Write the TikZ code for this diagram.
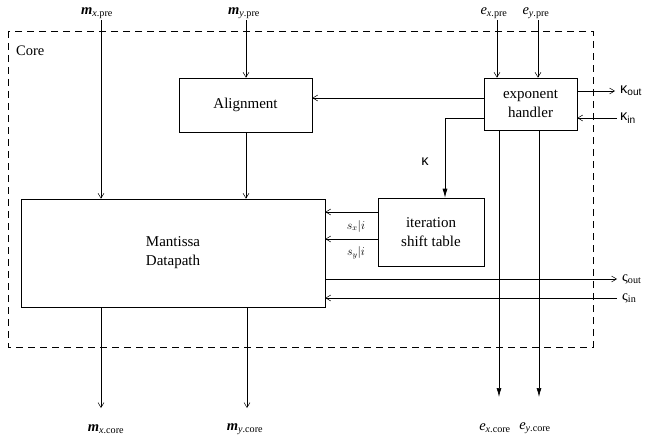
\documentclass[tikz,border=0pt]{standalone}
\usepackage{fontspec}
\setmainfont{Liberation Serif}
\newfontfamily\gksans{Liberation Sans}
\usetikzlibrary{arrows.meta}

\tikzset{
  block/.style={draw, line width=0.6pt, inner sep=0pt, align=center,
                font=\fontsize{15}{19}\selectfont},
  sig/.style={inner sep=1pt, font=\fontsize{14.5}{16}\selectfont},
  small/.style={inner sep=0pt, font=\fontsize{12}{14}\selectfont},
  wire/.style={line width=0.5pt},
  oarr/.style={wire, -{Straight Barb[length=5pt,width=6pt]}},
  farr/.style={line width=0.7pt, -{Latex[length=9pt,width=5pt]}},
  corebox/.style={draw, line width=0.6pt, dash pattern=on 7pt off 5pt},
}

% signal names
\newcommand{\mname}[2]{{\itshape\bfseries m}\textsubscript{\itshape #1\upshape .#2}}
\newcommand{\ename}[2]{{\itshape e}\textsubscript{\itshape #1\upshape .#2}}
\newcommand{\kname}[1]{{\gksans κ}\textsubscript{\gksans #1}}
\newcommand{\zname}[1]{ς\textsubscript{#1}}

\begin{document}
\begin{tikzpicture}[x=1pt, y=-1pt]
\useasboundingbox (0,0) rectangle (652,441);

% core boundary
\draw[corebox] (8,31) rectangle (593,347);
\node[sig, anchor=west] (core) at (15,51) {Core};

% functional blocks
\node[block, minimum width=133pt, minimum height=54pt] (align) at (245.5,105) {Alignment};
\node[block, minimum width=304pt, minimum height=108pt] (mant) at (173,253) {Mantissa\\Datapath};
\node[block, minimum width=106pt, minimum height=68pt] (iter) at (431,232) {iteration\\shift table};
\node[block, minimum width=93pt, minimum height=52pt] (exp) at (530.5,104) {exponent\\handler};

% inputs at the top
\node[sig] (mxpre) at (97,13) {\mname{x}{pre}};
\node[sig] (mypre) at (244,13) {\mname{y}{pre}};
\node[sig] (expre) at (494,13) {\ename{x}{pre}};
\node[sig] (eypre) at (536,13) {\ename{y}{pre}};

% outputs at the bottom
\node[sig] (mxcore) at (106,429) {\mname{x}{core}};
\node[sig] (mycore) at (245,429) {\mname{y}{core}};
\node[sig] (excore) at (495,428) {\ename{x}{core}};
\node[sig] (eycore) at (535,428) {\ename{y}{core}};

% side signals
\node[sig, anchor=west] (kout) at (619,91) {\kname{out}};
\node[sig, anchor=west] (kin)  at (619,118) {\kname{in}};
\node[sig, anchor=west] (zout) at (621,279) {\zname{out}};
\node[sig, anchor=west] (zin)  at (621,298) {\zname{in}};
\node[sig] (klab) at (425,162) {\gksans κ};
\node[small] (sxlab) at (356,226) {$s_x|i$};
\node[small] (sylab) at (356,253) {$s_y|i$};

% free ends of the wires
\coordinate (koutend) at (615,91);
\coordinate (kinend) at (617,118);
\coordinate (zoutend) at (617,279);
\coordinate (zinend) at (617,298);
\coordinate (kcorner) at (445,118);
\coordinate (mxend) at (101,408);
\coordinate (myend) at (247,408);
\coordinate (exend) at (499,397);
\coordinate (eyend) at (539,397);

% mantissa path
\draw[oarr] (mxpre.south -| 101,0) -- (mant.north -| 101,0);
\draw[oarr] (mypre.south -| 246,0) -- (align.north -| 246,0);
\draw[oarr] (align.south -| 246,0) -- (mant.north -| 246,0);
\draw[oarr] (mant.south -| mxend) -- (mxend);
\draw[oarr] (mant.south -| myend) -- (myend);

% exponent path
\draw[oarr] (expre.south -| 497,0) -- (exp.north -| 497,0);
\draw[oarr] (eypre.south -| 538,0) -- (exp.north -| 538,0);
\draw[farr] (exp.south -| exend) -- (exend);
\draw[farr] (exp.south -| eyend) -- (eyend);

% exponent handler to alignment and shift table
\draw[oarr] (exp.west |- 0,98) -- (align.east |- 0,98);
\draw[farr] (exp.west |- kcorner) -- (kcorner) -- (iter.north -| kcorner);

% shift amounts into the datapath
\draw[oarr] (iter.west |- 0,212) -- (mant.east |- 0,212);
\draw[oarr] (iter.west |- 0,239) -- (mant.east |- 0,239);

% kappa and varsigma links
\draw[oarr] (exp.east |- koutend) -- (koutend);
\draw[oarr] (kinend) -- (exp.east |- kinend);
\draw[oarr] (mant.east |- zoutend) -- (zoutend);
\draw[oarr] (zinend) -- (mant.east |- zinend);
\end{tikzpicture}
\end{document}
